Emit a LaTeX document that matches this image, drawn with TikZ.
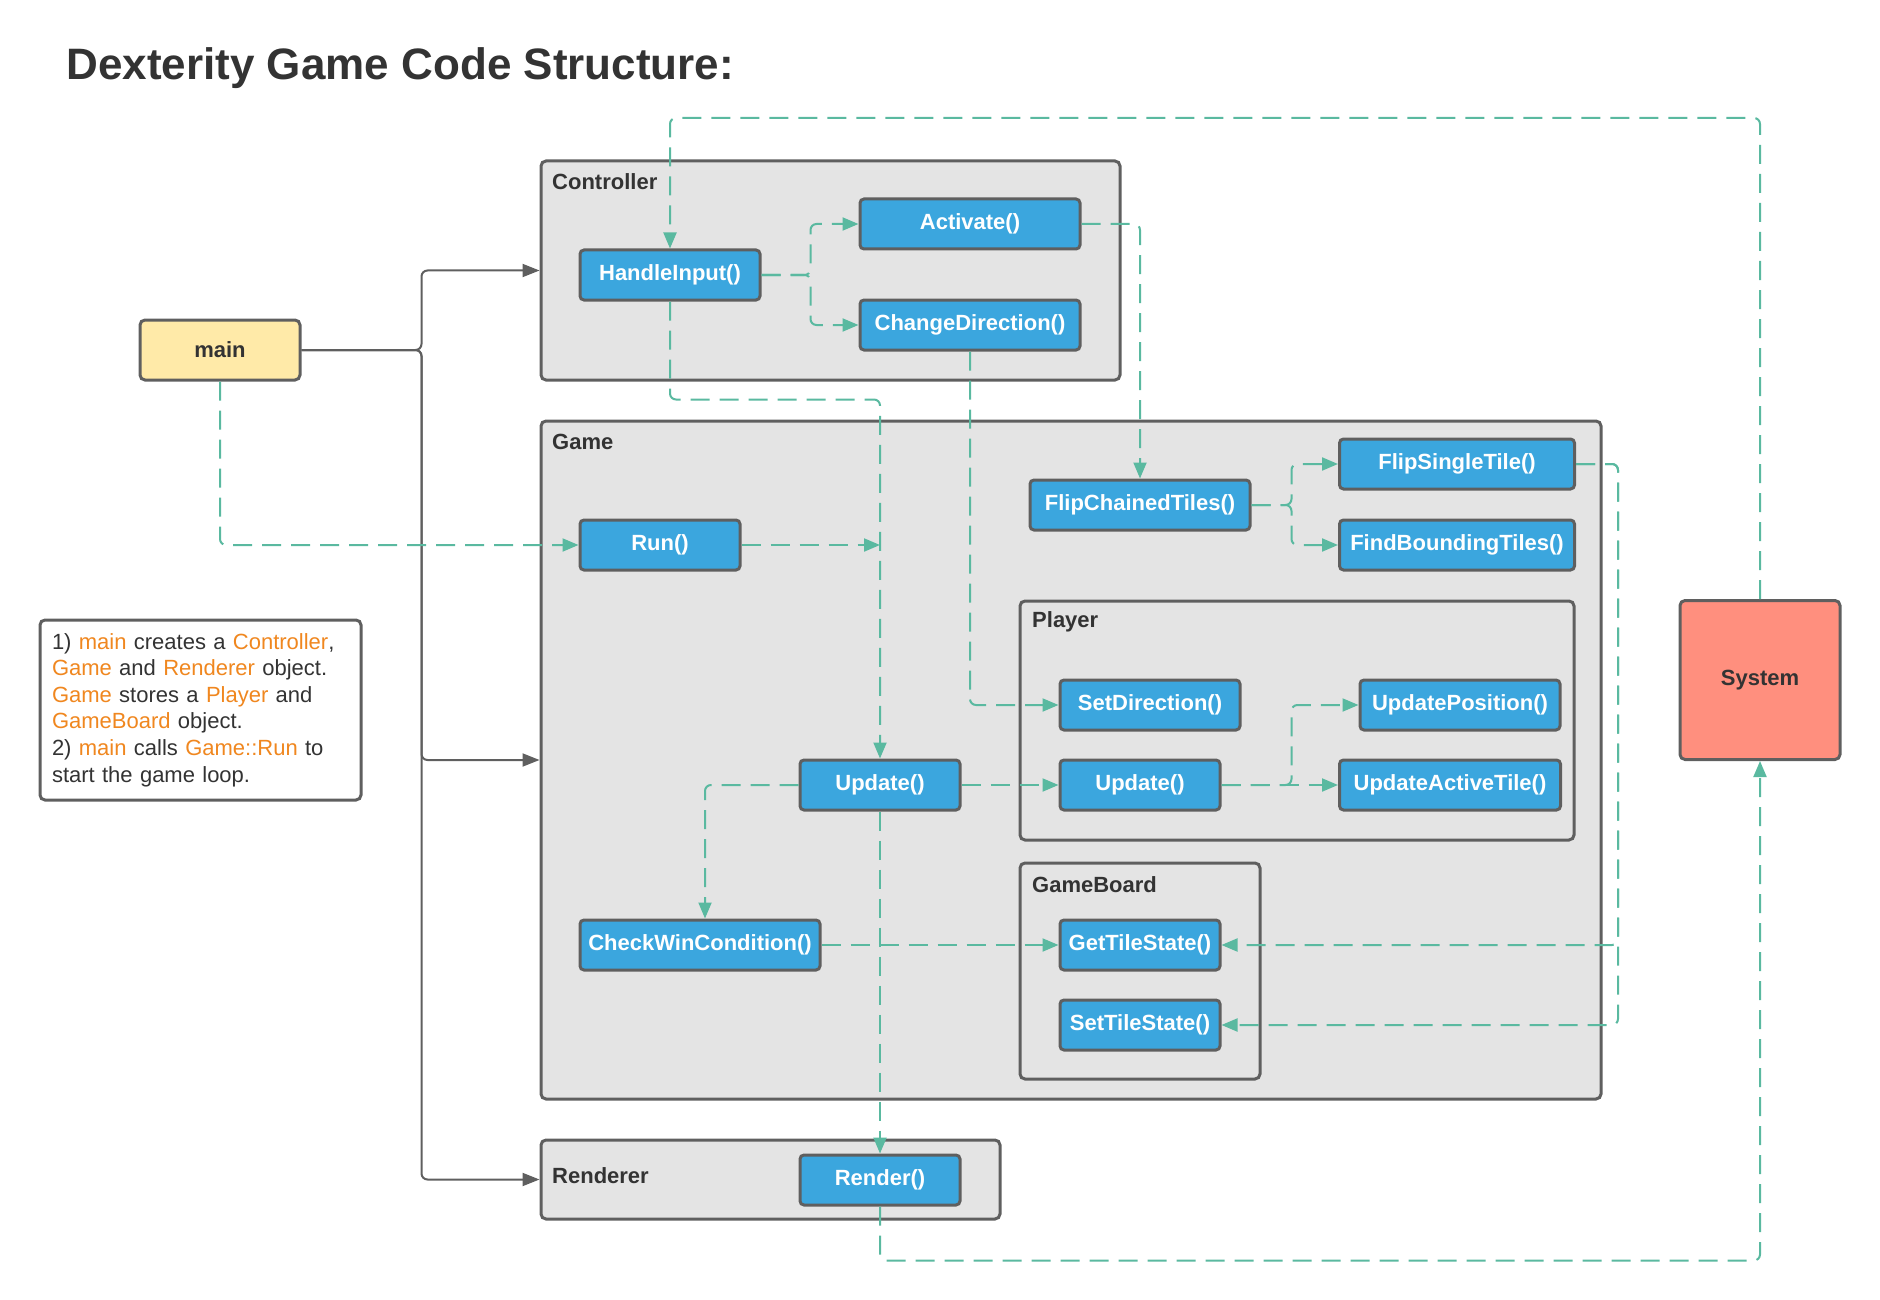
\documentclass[tikz,border=0pt]{standalone}
\usepackage{fontspec}
\setmainfont{Liberation Sans}
\usepackage{tikz}
\usetikzlibrary{arrows.meta,positioning}
\definecolor{methodblue}{RGB}{59,166,222}
\definecolor{framegray}{RGB}{95,95,95}
\definecolor{classgray}{RGB}{228,228,228}
\definecolor{flowgreen}{RGB}{90,185,160}
\definecolor{mainyellow}{RGB}{255,234,168}
\definecolor{systemred}{RGB}{255,143,126}
\definecolor{objorange}{RGB}{240,135,31}
\definecolor{textdark}{RGB}{51,51,51}
\newcommand{\objname}[1]{\textcolor{objorange}{#1}}

\begin{document}
\begin{tikzpicture}[
    x=1pt, y=-1pt,
    every node/.style={align=center, text=textdark},
    classbox/.style={rectangle, rounded corners=5pt, draw=framegray, fill=classgray, line width=3pt},
    classname/.style={anchor=west, font=\fontsize{22}{26}\selectfont\bfseries, inner sep=0pt},
    method/.style={rectangle, rounded corners=4pt, minimum height=50pt, draw=framegray, fill=methodblue, line width=3pt, text=white, font=\fontsize{22}{26}\selectfont\bfseries, inner sep=2pt},
    link/.style={line width=2pt, draw=framegray, -{Triangle[length=17pt,width=13pt]}, rounded corners=6pt},
    flow/.style={line width=2pt, draw=flowgreen, dash pattern=on 19pt off 10pt, -{Triangle[length=16pt,width=13pt]}, rounded corners=6pt}
]
\useasboundingbox (0,0) rectangle (1880,1300);

% Title
\node[anchor=base west, font=\fontsize{44}{52}\selectfont\bfseries] (title) at (63,80) {Dexterity Game Code Structure:};

% Classes
\node[classbox, minimum width=579pt, minimum height=219pt] (controller) at (830.5,270.5) {};
\node[classbox, minimum width=1060pt, minimum height=678pt] (game) at (1071,760) {};
\node[classbox, minimum width=554pt, minimum height=239pt] (player) at (1297,720.5) {};
\node[classbox, minimum width=240pt, minimum height=216pt] (gameboard) at (1140,971) {};
\node[classbox, minimum width=459pt, minimum height=79pt] (renderer) at (770.5,1179.5) {};

\node[classname] (controller_name) at (552,182) {Controller};
\node[classname] (game_name) at (552,442) {Game};
\node[classname] (player_name) at (1032,622) {Player};
\node[classname] (gameboard_name) at (1032,885) {GameBoard};
\node[classname] (renderer_name) at (552,1176) {Renderer};

% main, system and note
\node[rectangle, rounded corners=5pt, draw=framegray, fill=mainyellow, line width=3pt, minimum width=160pt, minimum height=60pt, font=\fontsize{22}{26}\selectfont\bfseries] (main) at (220,350) {main};
\node[rectangle, rounded corners=5pt, draw=framegray, fill=systemred, line width=3pt, minimum width=160pt, minimum height=159pt, font=\fontsize{22}{26}\selectfont\bfseries] (system) at (1760,680) {System};
\node[rectangle, rounded corners=5pt, draw=framegray, fill=white, line width=3pt, text width=297pt, inner xsep=12pt, minimum height=180pt, align=left, font=\fontsize{22}{26.6}\selectfont] (note) at (200.5,710) {1) \objname{main} creates a \objname{Controller},\\\objname{Game} and \objname{Renderer} object.\\\objname{Game} stores a \objname{Player} and\\\objname{GameBoard} object.\\2) \objname{main} calls \objname{Game::Run} to\\start the game loop.};

% Methods
\node[method, minimum width=180pt] (handle_input) at (670,275) {HandleInput()};
\node[method, minimum width=220pt] (activate) at (970,224) {Activate()};
\node[method, minimum width=220pt] (change_dir) at (970,325) {ChangeDirection()};
\node[method, minimum width=160pt] (run) at (660,545) {Run()};
\node[method, minimum width=220pt] (flip_chained) at (1140,505) {FlipChainedTiles()};
\node[method, minimum width=235pt] (flip_single) at (1457,464) {FlipSingleTile()};
\node[method, minimum width=235pt] (find_bounding) at (1457,545) {FindBoundingTiles()};
\node[method, minimum width=180pt] (set_dir) at (1150,705) {SetDirection()};
\node[method, minimum width=160pt] (player_update) at (1140,785) {Update()};
\node[method, minimum width=200pt] (update_pos) at (1460,705) {UpdatePosition()};
\node[method, minimum width=221pt] (update_tile) at (1450,785) {UpdateActiveTile()};
\node[method, minimum width=160pt] (game_update) at (880,785) {Update()};
\node[method, minimum width=240pt] (check_win) at (700,945) {CheckWinCondition()};
\node[method, minimum width=160pt] (get_state) at (1140,945) {GetTileState()};
\node[method, minimum width=160pt] (set_state) at (1140,1025) {SetTileState()};
\node[method, minimum width=160pt] (render) at (880,1180) {Render()};

% Ownership
\draw[link] (main.east) -- ++(120,0) |- (controller.west);
\draw[link] (main.east) -- ++(120,0) |- (game.west);
\draw[link] (main.east) -- ++(120,0) |- (renderer.west);

% Calls
\draw[flow] (main.south) |- (run.west);
\draw[flow] (run.east) -- (run.east -| game_update.north);
\draw[flow] (handle_input.south) -- ++(0,98) -| (game_update.north);
\draw[flow] (handle_input.east) -- ++(49,0) |- (activate.west);
\draw[flow] (handle_input.east) -- ++(49,0) |- (change_dir.west);
\draw[flow] (activate.east) -| (flip_chained.north);
\draw[flow] (change_dir.south) |- (set_dir.west);
\draw[flow] (flip_chained.east) -- ++(40,0) |- (flip_single.west);
\draw[flow] (flip_chained.east) -- ++(40,0) |- (find_bounding.west);
\draw[flow] (flip_single.east) -- ++(42,0) |- (get_state.east);
\draw[flow] (flip_single.east) -- ++(42,0) |- (set_state.east);
\draw[flow] (game_update.west) -| ([xshift=5pt]check_win.north);
\draw[flow] (game_update.east) -- (player_update.west);
\draw[flow] (game_update.south) -- (render.north);
\draw[flow] (player_update.east) -- ++(70,0) |- (update_pos.west);
\draw[flow] (player_update.east) -- (update_tile.west);
\draw[flow] (check_win.east) -- (get_state.west);
\draw[flow] (render.south) -- ++(0,54) -| (system.south);
\draw[flow] (system.north) -- ++(0,-481) -| (handle_input.north);

\end{tikzpicture}
\end{document}
